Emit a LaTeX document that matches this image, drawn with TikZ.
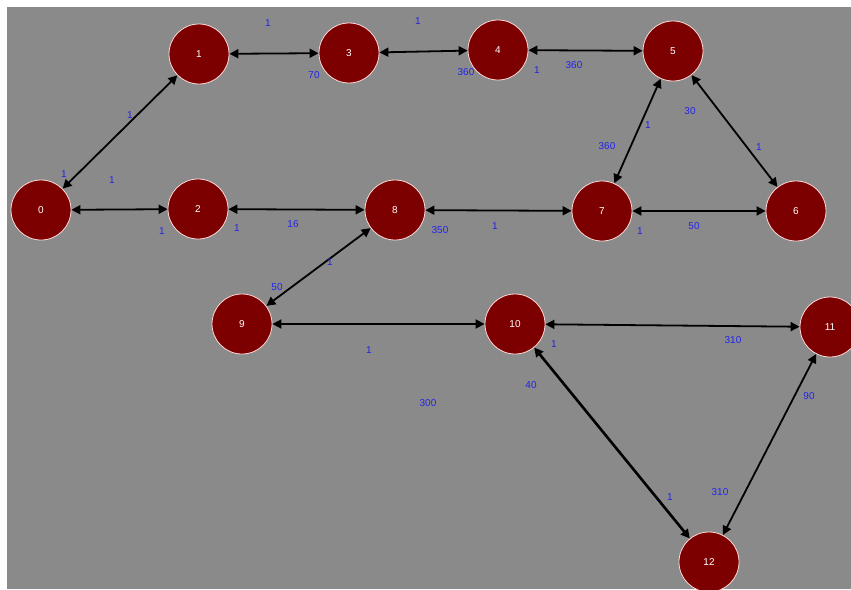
\documentclass[tikz,border=0pt]{standalone}
\usepackage{fontspec}
\setmainfont{Liberation Sans}
\usetikzlibrary{arrows.meta}
\definecolor{bg}{RGB}{138,138,138}
\definecolor{nodered}{RGB}{125,0,0}
\definecolor{lblblue}{RGB}{35,35,235}
\begin{document}
\begin{tikzpicture}[x=1pt,y=-1pt,
  vtx/.style={circle,minimum size=60pt,inner sep=0pt,fill=nodered,draw=white!85!red,line width=0.8pt,text=white,font=\fontsize{10}{11}\selectfont},
  edge/.style={draw=black,line width=1.8pt,{Triangle[length=9pt,width=9pt]}-{Triangle[length=9pt,width=9pt]}},
  wt/.style={text=lblblue,font=\fontsize{10}{11}\selectfont,inner sep=0pt}]
\useasboundingbox (0,0) rectangle (851,589);
\clip (0,0) rectangle (851,589);
\fill[white] (0,0) rectangle (851,589);
\fill[bg] (7,7) rectangle (851,589);
\node[vtx] (n0) at (41,210) {0};
\node[vtx] (n1) at (199,54) {1};
\node[vtx] (n3) at (349,53) {3};
\node[vtx] (n4) at (498,50) {4};
\node[vtx] (n5) at (673,51) {5};
\node[vtx] (n2) at (198,209) {2};
\node[vtx] (n8) at (395,210) {8};
\node[vtx] (n7) at (602,211) {7};
\node[vtx] (n6) at (796,211) {6};
\node[vtx] (n9) at (242,324) {9};
\node[vtx] (n10) at (515,324) {10};
\node[vtx] (n11) at (830,327) {11};
\node[vtx] (n12) at (709,562) {12};
\draw[edge] (n0) -- (n1);
\draw[edge] (n0) -- (n2);
\draw[edge] (n1) -- (n3);
\draw[edge] (n3) -- (n4);
\draw[edge] (n4) -- (n5);
\draw[edge] (n2) -- (n8);
\draw[edge] (n8) -- (n7);
\draw[edge] (n7) -- (n6);
\draw[edge] (n5) -- (n7);
\draw[edge] (n5) -- (n6);
\draw[edge] (n8) -- (n9);
\draw[edge] (n9) -- (n10);
\draw[edge] (n10) -- (n11);
\draw[edge,line width=2.6pt] (n10) -- (n12);
\draw[edge] (n11) -- (n12);
\node[wt] (w1) at (268,23) {1};
\node[wt] (w2) at (418,21) {1};
\node[wt] (w3) at (314,75) {70};
\node[wt] (w4) at (466,72) {360};
\node[wt] (w5) at (537,70) {1};
\node[wt] (w6) at (574,65) {360};
\node[wt] (w7) at (130,115) {1};
\node[wt] (w8) at (64,174) {1};
\node[wt] (w9) at (112,180) {1};
\node[wt] (w10) at (162,231) {1};
\node[wt] (w11) at (237,228) {1};
\node[wt] (w12) at (293,224) {16};
\node[wt] (w13) at (440,230) {350};
\node[wt] (w14) at (495,226) {1};
\node[wt] (w15) at (690,111) {30};
\node[wt] (w16) at (648,125) {1};
\node[wt] (w17) at (607,146) {360};
\node[wt] (w18) at (759,147) {1};
\node[wt] (w19) at (640,231) {1};
\node[wt] (w20) at (694,226) {50};
\node[wt] (w21) at (277,287) {50};
\node[wt] (w22) at (330,262) {1};
\node[wt] (w23) at (369,350) {1};
\node[wt] (w24) at (428,403) {300};
\node[wt] (w25) at (531,385) {40};
\node[wt] (w26) at (554,344) {1};
\node[wt] (w27) at (733,340) {310};
\node[wt] (w28) at (809,396) {90};
\node[wt] (w29) at (720,492) {310};
\node[wt] (w30) at (670,497) {1};
\end{tikzpicture}
\end{document}
